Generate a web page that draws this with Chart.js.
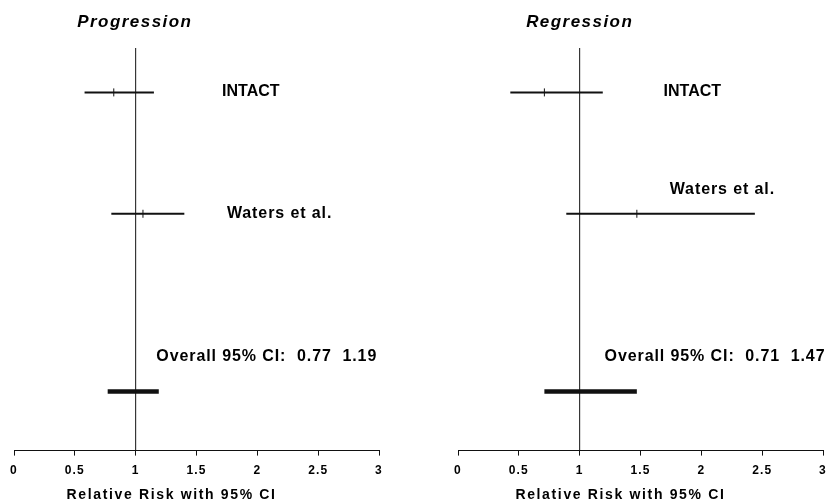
<!DOCTYPE html>
<html><head><meta charset="utf-8">
<script src="https://cdn.jsdelivr.net/npm/chart.js@4.4.1/dist/chart.umd.min.js"></script>
<style>
html,body{margin:0;padding:0;background:#fff;overflow:hidden;width:826px;height:503px;}
#c1{position:absolute;left:0;top:0;}
#c2{position:absolute;left:413px;top:0;}
</style></head><body>
<canvas id="c1" width="413" height="503"></canvas>
<canvas id="c2" width="440" height="503"></canvas>
<script>
// ---- data ----
const studies = ['INTACT', 'Waters et al.'];
const studyRows = [6.05, 4.0];
const progLow = [0.58, 0.80];
const progEst = [0.82, 1.06];
const progHigh = [1.15, 1.40];
const regLow = [0.43, 0.89];
const regEst = [0.71, 1.47];
const regHigh = [1.19, 2.44];
const progOverall = [0.77, 1.19];
const regOverall = [0.71, 1.47];
const overallRow = 1.0;
const xTicks = [0, 0.5, 1, 1.5, 2, 2.5, 3];
const panelTitles = ['Progression', 'Regression'];
const axisTitle = 'Relative Risk with 95% CI';

const FONT = '"Liberation Sans", Arial, sans-serif';
const INK = '#111';

const textPlugin = {
  id: 'texts',
  beforeDraw(chart) { chart.ctx.letterSpacing = '1.1px'; },
  afterDraw(chart) {
    const ctx = chart.ctx;
    const xs = chart.scales.x, ys = chart.scales.y;
    const items = chart.options.plugins.texts.items;
    ctx.save();
    ctx.fillStyle = '#000';
    ctx.textBaseline = 'middle';
    for (const it of items) {
      ctx.font = it.font;
      ctx.letterSpacing = it.ls + 'px';
      ctx.textAlign = it.align || 'left';
      ctx.fillText(it.text, xs.getPixelForValue(it.x), ys.getPixelForValue(it.y));
    }
    ctx.restore();
    ctx.letterSpacing = '0px';
  }
};

function makeChart(id, low, est, high, overall, title, pad, pos) {
  const datasets = [];
  datasets.push({data: [{x: 1, y: 0}, {x: 1, y: 6.8}], borderColor: INK, borderWidth: 1, pointRadius: 0, showLine: true});
  for (let i = 0; i < studies.length; i++) {
    datasets.push({data: [{x: low[i], y: studyRows[i]}, {x: high[i], y: studyRows[i]}], borderColor: INK, borderWidth: 2, pointRadius: 0, showLine: true});
    datasets.push({data: [{x: est[i], y: studyRows[i]}], borderColor: INK, borderWidth: 1, pointStyle: 'line', rotation: 90, pointRadius: 4, showLine: false});
  }
  datasets.push({data: [{x: overall[0], y: overallRow}, {x: overall[1], y: overallRow}], borderColor: INK, borderWidth: 4.5, pointRadius: 0, showLine: true, borderCapStyle: 'butt'});

  const items = [
    {text: title, x: pos.title, y: 7.24, font: 'italic bold 17px ' + FONT, ls: 1.45},
    {text: studies[0], x: pos.s0[0], y: pos.s0[1], font: 'bold 16px ' + FONT, ls: 0},
    {text: studies[1], x: pos.s1[0], y: pos.s1[1], font: 'bold 16px ' + FONT, ls: 0.9},
    {text: 'Overall 95% CI:  ' + overall[0].toFixed(2) + '  ' + overall[1].toFixed(2), x: pos.ov, y: 1.59, font: 'bold 16px ' + FONT, ls: 0.9},
    {text: axisTitle, x: pos.ax, y: -0.76, font: 'bold 14px ' + FONT, ls: 1.65, align: 'center'}
  ];

  return new Chart(document.getElementById(id), {
    type: 'scatter',
    data: {datasets},
    options: {
      responsive: false, animation: false, events: [],
      layout: {padding: pad},
      plugins: {legend: {display: false}, tooltip: {enabled: false}, texts: {items}},
      scales: {
        x: {
          type: 'linear', min: 0, max: 3,
          afterBuildTicks: s => { s.ticks = xTicks.map(v => ({value: v})); },
          ticks: {callback: v => String(v), color: '#000', padding: 8, maxRotation: 0, autoSkip: false, font: {family: FONT, size: 12, weight: 'bold'}},
          grid: {display: true, drawOnChartArea: false, drawTicks: true, tickLength: 5, color: INK, lineWidth: 1},
          border: {display: true, color: INK, width: 1}
        },
        y: {type: 'linear', min: 0, max: 6.8, display: false}
      }
    },
    plugins: [textPlugin]
  });
}

makeChart('c1', progLow, progEst, progHigh, progOverall, panelTitles[0],
  {left: 14, right: 34, top: 48, bottom: 17},
  {title: 0.52, s0: [1.71, 6.06], s1: [1.75, 4.0], ov: 1.17, ax: 1.295});
makeChart('c2', regLow, regEst, regHigh, regOverall, panelTitles[1],
  {left: 45, right: 30, top: 48, bottom: 17},
  {title: 0.56, s0: [1.69, 6.06], s1: [1.74, 4.41], ov: 1.205, ax: 1.335});
</script>
</body></html>
